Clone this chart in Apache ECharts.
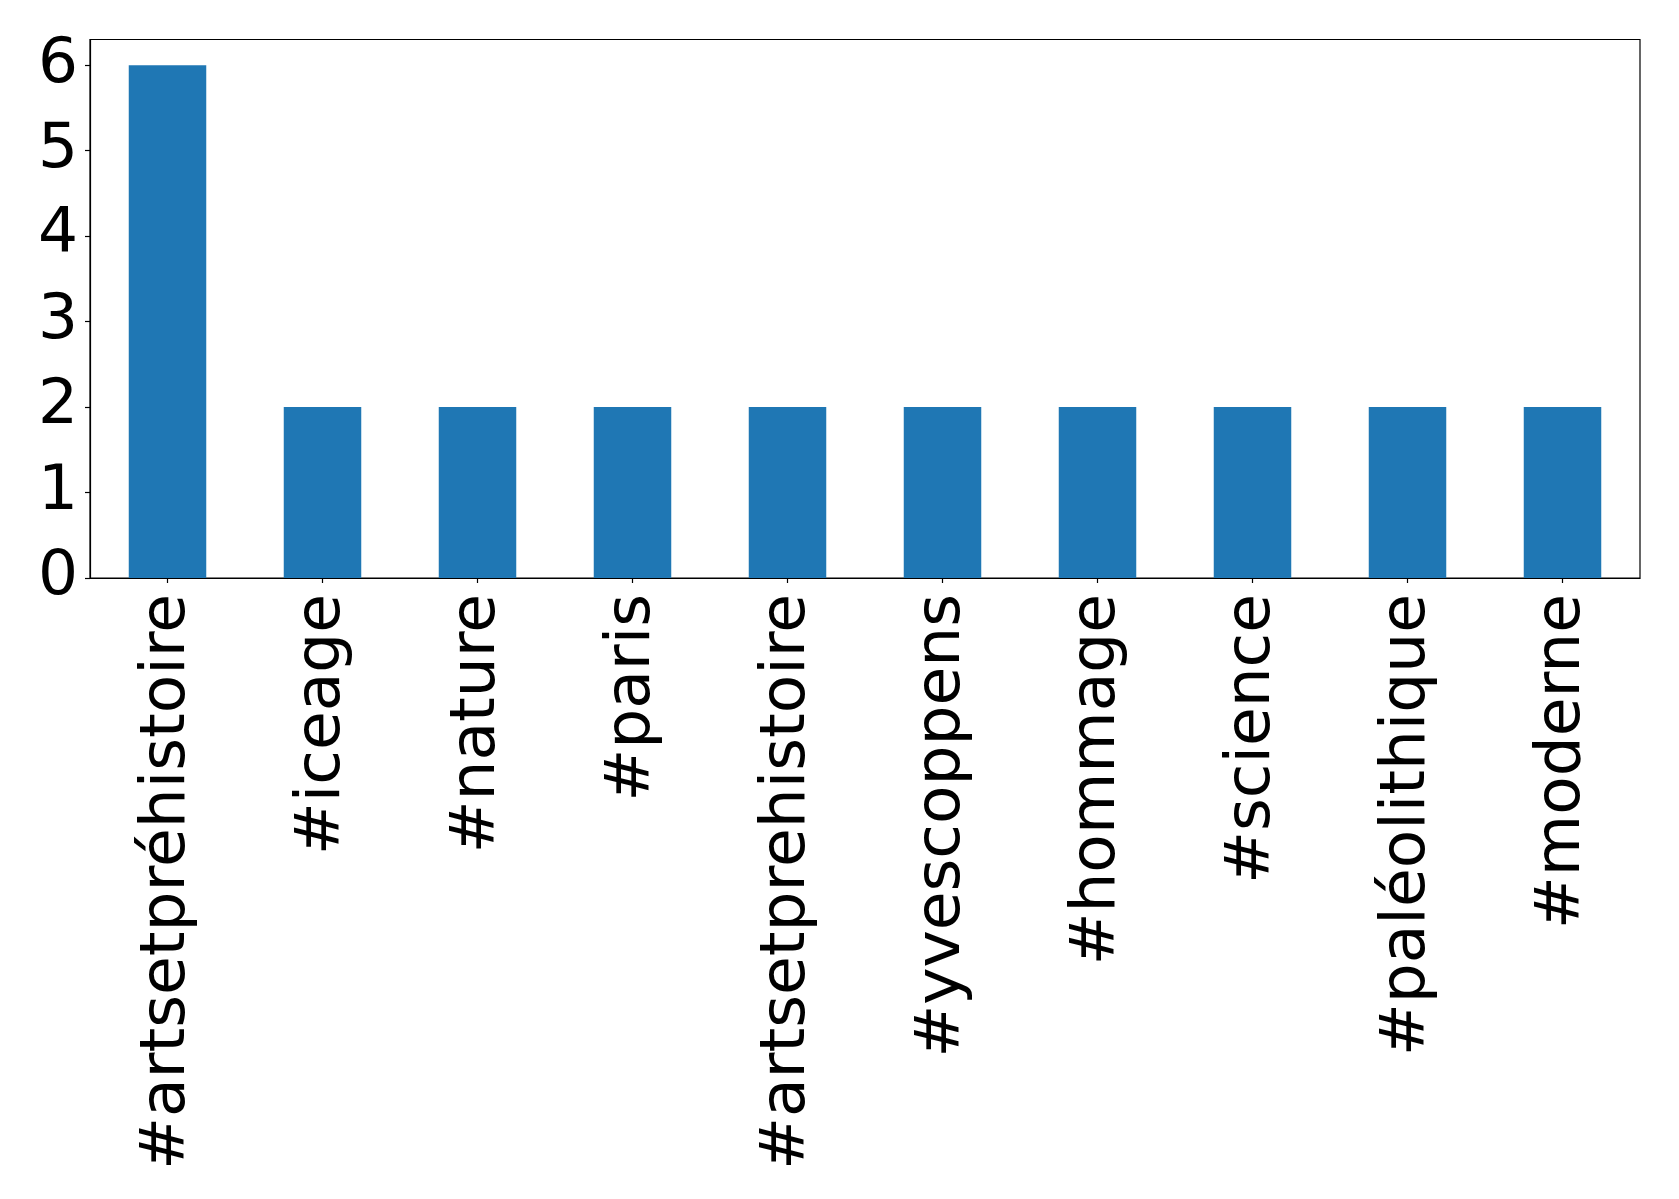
<!DOCTYPE html>
<html>
<head>
<meta charset="utf-8">
<script src="https://cdn.jsdelivr.net/npm/echarts@6/dist/echarts.min.js"></script>
<style>
html,body{margin:0;padding:0;background:#fff;}
#chart{width:1679px;height:1199px;}
</style>
</head>
<body>
<div id="chart"></div>
<script>
const categories = ["#artsetpréhistoire", "#iceage", "#nature", "#paris", "#artsetprehistoire", "#yvescoppens", "#hommage", "#science", "#paléolithique", "#moderne"];
const counts = [6, 2, 2, 2, 2, 2, 2, 2, 2, 2];
const yTicks = [0, 1, 2, 3, 4, 5, 6];

const chart = echarts.init(document.getElementById('chart'), null, {renderer: 'canvas'});
const font = 'DejaVu Sans';
chart.setOption({
  animation: false,
  backgroundColor: '#ffffff',
  grid: {left: 90, right: 39, top: 39.5, bottom: 621, show: true, borderColor: '#000', borderWidth: 1.2, containLabel: false},
  xAxis: {
    type: 'category',
    data: categories,
    boundaryGap: true,
    axisLine: {show: true, lineStyle: {color: '#000', width: 1.2}},
    axisTick: {show: true, alignWithLabel: true, length: 5, lineStyle: {color: '#000', width: 1.2}},
    axisLabel: {rotate: 90, interval: 0, margin: 16, fontSize: 63, fontFamily: font, color: '#000'},
    splitLine: {show: false}
  },
  yAxis: {
    type: 'value',
    min: 0,
    max: 6.3,
    interval: 1,
    axisLine: {show: true, lineStyle: {color: '#000', width: 1.2}},
    axisTick: {show: true, length: 5, lineStyle: {color: '#000', width: 1.2}},
    axisLabel: {margin: 12, fontSize: 63, fontFamily: font, color: '#000', showMaxLabel: false,
      padding: [5, 0, 0, 0],
      formatter: v => yTicks.includes(v) ? String(v) : ''},
    splitLine: {show: false}
  },
  series: [{
    type: 'bar',
    data: counts,
    barWidth: '50%',
    itemStyle: {color: '#1f77b4'}
  }]
});
</script>
</body>
</html>
